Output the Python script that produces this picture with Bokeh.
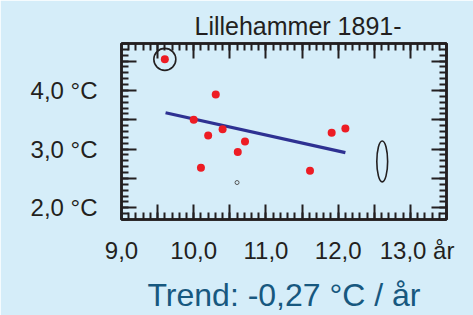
from bokeh.plotting import figure
from bokeh.models import FixedTicker, LinearAxis, Range1d
from bokeh.embed import file_html
from bokeh.resources import INLINE

# ---- data ----
pts_x = [9.60, 10.305, 10.00, 10.40, 10.20, 10.61, 10.71, 10.10, 11.91, 12.10, 11.61]
pts_y = [4.53, 3.93, 3.50, 3.34, 3.23, 2.95, 3.13, 2.68, 3.28, 3.35, 2.63]
trend_x = [9.61, 12.10]
trend_y = [3.62, 2.94]
ring_x = [9.60]
ring_y = [4.53]
small_x = [10.60]
small_y = [2.43]
ell_x = [12.61]
ell_y = [2.79]
ell_w = [0.15]
ell_h = [0.70]

x_major = [9, 9.5, 10, 10.5, 11, 11.5, 12, 12.5, 13, 13.5]
x_labels = {9: "9,0", 10: "10,0", 11: "11,0", 12: "12,0",
            13: "\u00a0\u00a013,0 år"}
y_major = [2, 2.5, 3, 3.5, 4, 4.5]
y_labels = {2: "2,0 °C", 3: "3,0 °C", 4: "4,0 °C"}
x_minor = [round(9.0 + 0.1 * i, 1) for i in range(46)]
y_minor = [round(1.8 + 0.1 * i, 1) for i in range(31)]

title_text = "Lillehammer 1891-"
trend_text = "Trend: -0,27 °C / år"

BG = "#d5edf9"
INK = "#231f20"
FONT = "Liberation Sans"

p = figure(width=473, height=315, output_backend="svg", toolbar_location=None,
           x_range=Range1d(9.0, 13.5), y_range=Range1d(1.8, 4.8),
           x_axis_location=None, y_axis_location=None,
           min_border_left=121, min_border_right=27,
           min_border_top=43, min_border_bottom=92)
p.background_fill_color = BG
p.border_fill_color = BG
p.outline_line_color = INK
p.outline_line_width = 2.5
p.xgrid.visible = False
p.ygrid.visible = False

p.title.text = title_text
p.title.align = "left"
p.title.offset = 73
p.title.text_font = FONT
p.title.text_font_size = "25px"
p.title.text_font_style = "normal"
p.title.text_color = INK
p.title.standoff = 7


def style_axis(ax, ticks, minor, labels, show_labels, standoff):
    ax.ticker = FixedTicker(ticks=ticks, minor_ticks=minor)
    ax.major_label_overrides = {**{t: "" for t in ticks}, **labels}
    ax.axis_line_color = INK
    ax.axis_line_width = 2.5
    ax.major_tick_line_color = INK
    ax.major_tick_line_width = 2
    ax.minor_tick_line_color = INK
    ax.minor_tick_line_width = 2
    ax.major_tick_in = 15
    ax.major_tick_out = 0
    ax.minor_tick_in = 7
    ax.minor_tick_out = 0
    ax.major_label_text_font = FONT
    ax.major_label_text_color = INK
    if show_labels:
        ax.major_label_text_font_size = "24px"
        ax.major_label_standoff = standoff
    else:
        ax.major_label_text_font_size = "0px"
        ax.major_label_standoff = 0


left = LinearAxis()
style_axis(left, y_major, y_minor, y_labels, True, 24)
right = LinearAxis()
style_axis(right, y_major, y_minor, {}, False, 0)
bottom = LinearAxis()
style_axis(bottom, x_major, x_minor, x_labels, True, 17)
bottom.axis_label = trend_text
bottom.axis_label_text_font = FONT
bottom.axis_label_text_font_size = "32px"
bottom.axis_label_text_font_style = "normal"
bottom.axis_label_text_color = "#17587f"
bottom.axis_label_standoff = 10
top = LinearAxis()
style_axis(top, x_major, x_minor, {}, False, 0)
p.add_layout(left, "left")
p.add_layout(right, "right")
p.add_layout(bottom, "below")
p.add_layout(top, "above")

# trend line
p.line(trend_x, trend_y, line_color="#2e3192", line_width=3.2)
# data points
p.scatter(pts_x, pts_y, size=8, fill_color="#ed1c24", line_color=None)
# highlight ring
p.scatter(ring_x, ring_y, size=22, fill_color=None, line_color=INK, line_width=1.6)
# small hollow point
p.scatter(small_x, small_y, size=4, fill_color=None, line_color="#555555", line_width=1)
# ellipse
p.ellipse(x=ell_x, y=ell_y, width=ell_w, height=ell_h, fill_color=None,
          line_color=INK, line_width=1.6)

open("out.html", "w").write(file_html(p, INLINE))
